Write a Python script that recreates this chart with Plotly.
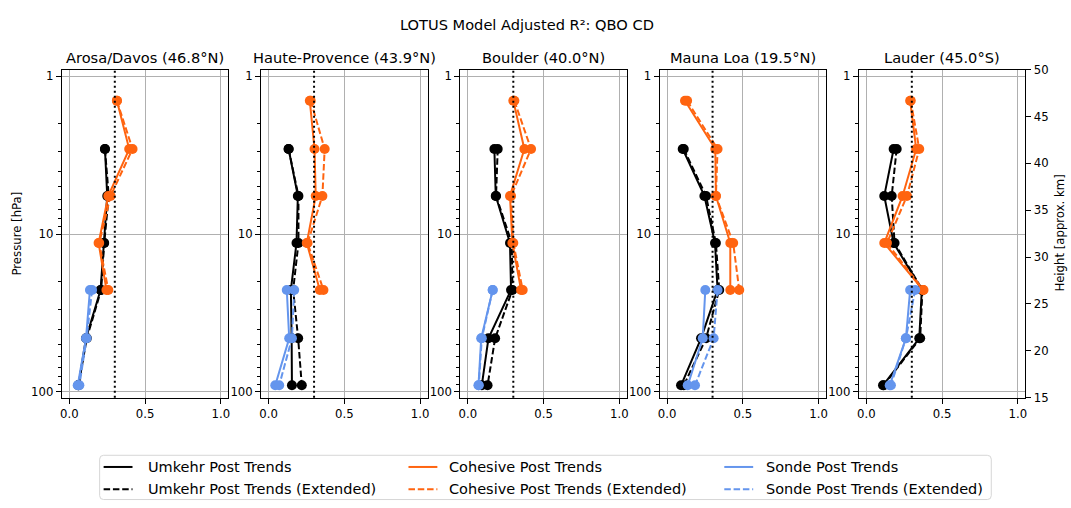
import plotly.graph_objects as go

W, H = 1071, 508

STATIONS = ["Arosa/Davos (46.8°N)", "Haute-Provence (43.9°N)", "Boulder (40.0°N)",
            "Mauna Loa (19.5°N)", "Lauder (45.0°S)"]

# pressure levels (hPa), top to bottom
PRESSURE = [1.43, 2.89, 5.73, 11.4, 22.6, 45.8, 91.0]
UMKEHR_LEVELS = PRESSURE[1:7]
COHESIVE_LEVELS = PRESSURE[0:5]
SONDE_LEVELS = PRESSURE[4:7]

UMKEHR = [
    [0.235, 0.25, 0.228, 0.206, 0.11, 0.06],
    [0.132, 0.193, 0.184, 0.147, 0.152, 0.154],
    [0.175, 0.184, 0.278, 0.285, 0.136, 0.092],
    [0.103, 0.246, 0.316, 0.333, 0.224, 0.092],
    [0.18, 0.118, 0.18, 0.366, 0.349, 0.11],
]
UMKEHR_EXT = [
    [0.235, 0.26, 0.23, 0.21, 0.115, 0.06],
    [0.132, 0.197, 0.197, 0.162, 0.195, 0.219],
    [0.197, 0.186, 0.29, 0.294, 0.18, 0.13],
    [0.11, 0.257, 0.322, 0.344, 0.257, 0.11],
    [0.2, 0.167, 0.186, 0.37, 0.355, 0.115],
]
COHESIVE = [
    [0.314, 0.395, 0.257, 0.193, 0.245],
    [0.272, 0.303, 0.311, 0.252, 0.338],
    [0.30, 0.373, 0.278, 0.294, 0.351],
    [0.118, 0.318, 0.322, 0.417, 0.417],
    [0.289, 0.329, 0.239, 0.118, 0.373],
]
COHESIVE_EXT = [
    [0.314, 0.417, 0.272, 0.197, 0.257],
    [0.278, 0.37, 0.355, 0.257, 0.362],
    [0.307, 0.417, 0.285, 0.30, 0.362],
    [0.132, 0.333, 0.322, 0.436, 0.476],
    [0.293, 0.349, 0.268, 0.136, 0.377],
]
SONDE = [
    [0.136, 0.11, 0.055],
    [0.12, 0.136, 0.044],
    [0.164, 0.088, 0.07],
    [0.252, 0.235, 0.136],
    [0.289, 0.261, 0.154],
]
SONDE_EXT = [
    [0.15, 0.114, 0.066],
    [0.169, 0.154, 0.07],
    [0.164, 0.092, 0.072],
    [0.333, 0.307, 0.184],
    [0.322, 0.261, 0.162],
]
THRESHOLD = 0.3

X_TICKS = [0.0, 0.5, 1.0]
X_TICKTEXT = ["0.0", "0.5", "1.0"]
P_TICKS = [1, 10, 100]
P_TICKTEXT = ["1", "10", "100"]
P_MINOR = [2, 3, 4, 5, 6, 7, 8, 9, 20, 30, 40, 50, 60, 70, 80, 90]
H_TICKS = [15, 20, 25, 30, 35, 40, 45, 50]

BLACK = "#000000"
ORANGE = "#ff6410"
BLUE = "#6495ed"
DASH = "6.5px,2.8px"
FONT = "DejaVu Sans"

SERIES = [
    ("Umkehr Post Trends", UMKEHR, UMKEHR_LEVELS, BLACK, "solid"),
    ("Umkehr Post Trends (Extended)", UMKEHR_EXT, UMKEHR_LEVELS, BLACK, DASH),
    ("Cohesive Post Trends", COHESIVE, COHESIVE_LEVELS, ORANGE, "solid"),
    ("Cohesive Post Trends (Extended)", COHESIVE_EXT, COHESIVE_LEVELS, ORANGE, DASH),
    ("Sonde Post Trends", SONDE, SONDE_LEVELS, BLUE, "solid"),
    ("Sonde Post Trends (Extended)", SONDE_EXT, SONDE_LEVELS, BLUE, DASH),
]

# layout geometry in pixels
LEFT0, PW, STEP = 60.0, 167.3, 200.0
TOP, BOT = 64.3, 401.7

def px(x):
    return x / W

def py(y):
    return 1 - y / H

fig = go.Figure()
layout = dict(
    width=W, height=H, margin=dict(l=0, r=0, t=0, b=0),
    paper_bgcolor="white", plot_bgcolor="white", showlegend=False,
    font=dict(family=FONT, color="black", size=11.7),
)
annotations = []
shapes = []

for i, name in enumerate(STATIONS):
    k = "" if i == 0 else str(i + 1)
    x0 = LEFT0 + STEP * i
    dom_x = [px(x0), px(x0 + PW)]
    layout["xaxis" + k] = dict(
        domain=dom_x, anchor="y" + k, range=[-0.05, 1.05],
        tickvals=X_TICKS, ticktext=X_TICKTEXT, ticks="outside", ticklen=5,
        tickcolor="black", showline=True, linecolor="black", linewidth=1,
        mirror=True, showgrid=True, gridcolor="#b0b0b0", gridwidth=1,
        zeroline=False, tickfont=dict(size=11.7),
    )
    layout["yaxis" + k] = dict(
        domain=[py(BOT), py(TOP)], anchor="x" + k, type="log",
        range=[2.037, -0.0432], tickvals=P_TICKS, ticktext=P_TICKTEXT,
        ticks="outside", ticklen=5, tickcolor="black", showline=True,
        linecolor="black", linewidth=1, mirror=True, showgrid=True,
        gridcolor="#b0b0b0", gridwidth=1, zeroline=False,
        minor=dict(tickvals=P_MINOR, ticks="outside", ticklen=3,
                   tickcolor="black", showgrid=False),
        tickfont=dict(size=11.7),
    )
    xa = "x" + k
    ya = "y" + k
    for label, vals, levels, color, dash in SERIES:
        fig.add_trace(go.Scatter(
            x=vals[i], y=levels, mode="lines+markers", xaxis=xa, yaxis=ya,
            line=dict(color=color, width=2, dash=dash),
            marker=dict(color=color, size=10, symbol="circle"),
            name=label, showlegend=False,
        ))
    shapes.append(dict(
        type="line", xref=xa, yref=ya + " domain", x0=THRESHOLD, x1=THRESHOLD,
        y0=0, y1=1, line=dict(color="black", width=2, dash="2px,3px"),
    ))
    annotations.append(dict(
        text=name, xref="paper", yref="paper", x=px(x0 + PW / 2), y=py(52),
        xanchor="center", yanchor="middle", showarrow=False,
        font=dict(size=14.6, family=FONT, color="black"),
    ))

# secondary height axis on last panel
layout["yaxis6"] = dict(
    domain=[py(BOT), py(TOP)], anchor="x5", overlaying="y5", side="right",
    range=[15, 50], tickvals=H_TICKS, ticks="outside", ticklen=5,
    tickcolor="black", showline=True, linecolor="black", linewidth=1,
    showgrid=False, zeroline=False, tickfont=dict(size=11.7),
)
fig.add_trace(go.Scatter(x=[None], y=[None], xaxis="x5", yaxis="y6",
                         showlegend=False, hoverinfo="skip"))

# titles and axis labels
annotations.append(dict(
    text="LOTUS Model Adjusted R²: QBO CD", xref="paper", yref="paper",
    x=px(526.7), y=py(18), xanchor="center", yanchor="middle", showarrow=False,
    font=dict(size=14.6, family=FONT, color="black"),
))
annotations.append(dict(
    text="Pressure [hPa]", xref="paper", yref="paper", x=px(15), y=py(233),
    xanchor="center", yanchor="middle", textangle=-90, showarrow=False,
    font=dict(size=11.7, family=FONT, color="black"),
))
annotations.append(dict(
    text="Height [approx. km]", xref="paper", yref="paper", x=px(1062), y=py(233),
    xanchor="center", yanchor="middle", textangle=-90, showarrow=False,
    font=dict(size=11.7, family=FONT, color="black"),
))

# legend drawn manually (matplotlib style, 3 columns)
LX0, LX1, LY0, LY1, R = 98.0, 993.0, 461.0, 506.5, 4.0
path = (f"M {px(LX0 + R)},{py(LY0)} L {px(LX1 - R)},{py(LY0)} "
        f"Q {px(LX1)},{py(LY0)} {px(LX1)},{py(LY0 + R)} "
        f"L {px(LX1)},{py(LY1 - R)} Q {px(LX1)},{py(LY1)} {px(LX1 - R)},{py(LY1)} "
        f"L {px(LX0 + R)},{py(LY1)} Q {px(LX0)},{py(LY1)} {px(LX0)},{py(LY1 - R)} "
        f"L {px(LX0)},{py(LY0 + R)} Q {px(LX0)},{py(LY0)} {px(LX0 + R)},{py(LY0)} Z")
shapes.append(dict(type="path", xref="paper", yref="paper", path=path,
                   line=dict(color="#d6d6d6", width=1), fillcolor="rgba(255,255,255,0.8)"))
col_line_x = [102.0, 408.0, 725.0]
col_text_x = [145.0, 447.0, 765.0]
row_y = [473.0, 496.0]
for j, (label, vals, levels, color, dash) in enumerate(SERIES):
    c, r = j // 2, j % 2
    shapes.append(dict(
        type="line", xref="paper", yref="paper",
        x0=px(col_line_x[c]), x1=px(col_line_x[c] + 29), y0=py(row_y[r]), y1=py(row_y[r]),
        line=dict(color=color, width=2, dash=dash),
    ))
    annotations.append(dict(
        text=label, xref="paper", yref="paper", x=px(col_text_x[c]), y=py(row_y[r]),
        xanchor="left", yanchor="middle", showarrow=False,
        font=dict(size=14.5, family=FONT, color="black"),
    ))

layout["annotations"] = annotations
layout["shapes"] = shapes
fig.update_layout(**layout)
fig.write_html("out.html")
